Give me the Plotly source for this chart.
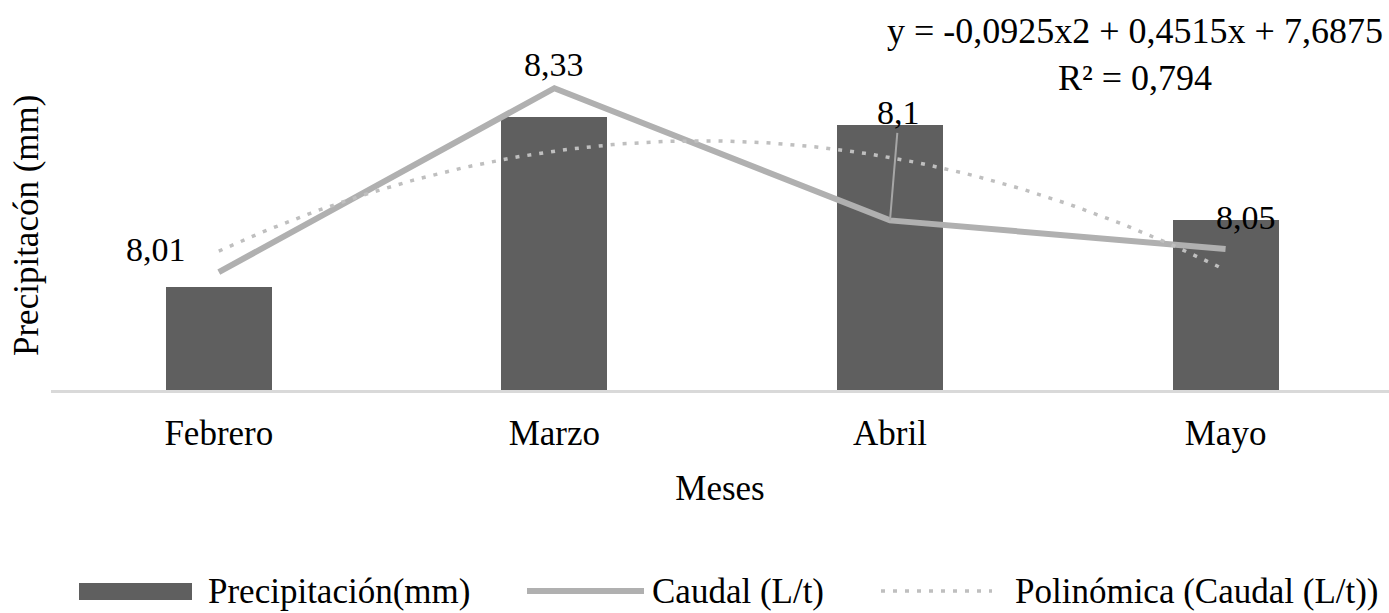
import numpy as np
import plotly.graph_objects as go

# ---------------- data ----------------
months = ["Febrero", "Marzo", "Abril", "Mayo"]
precipitacion = [30.1, 79.8, 77.5, 49.7]          # hidden primary axis (0-100)
caudal = [8.01, 8.33, 8.1, 8.05]
caudal_labels = ["8,01", "8,33", "8,1", "8,05"]
poly_coef = [-0.0925, 0.4515, 7.6875]              # y = a x^2 + b x + c  (x = 1..4)
equation_text = "y = -0,0925x2 + 0,4515x + 7,6875<br>R² = 0,794"

# label offsets (pixels) relative to the line points
label_dx = [-63, 0, 9, 20]
label_dy = [22.5, 23.5, 107.5, 32]

FONT = "Liberation Serif"
BAR_COLOR = "#5f5f5f"
LINE_COLOR = "#b0b0b0"
TREND_COLOR = "#bfbfbf"

xpos = list(range(len(months)))
xt = np.linspace(0, len(months) - 1, 121)
yt = np.polyval(poly_coef, xt + 1)

fig = go.Figure()
fig.add_trace(go.Bar(
    x=xpos, y=precipitacion, name="Precipitación(mm)",
    marker=dict(color=BAR_COLOR, line=dict(width=0)),
    width=0.316, showlegend=False, yaxis="y"))
fig.add_trace(go.Scatter(
    x=xpos, y=caudal, name="Caudal (L/t)", mode="lines",
    line=dict(color=LINE_COLOR, width=6), showlegend=False, yaxis="y2"))
fig.add_trace(go.Scatter(
    x=xt, y=yt, name="Polinómica (Caudal (L/t))", mode="lines",
    line=dict(color=TREND_COLOR, width=3.5, dash="4px,8px"),
    showlegend=False, yaxis="y2"))

annotations = []
for i, (v, lab) in enumerate(zip(caudal, caudal_labels)):
    if i == 2:
        annotations.append(dict(
            x=xpos[i], y=v, xref="x", yref="y2", text=lab, showarrow=True,
            ax=label_dx[i], ay=-label_dy[i], arrowhead=0, arrowwidth=2,
            arrowcolor="#a6a6a6", standoff=0,
            font=dict(family=FONT, size=34, color="black")))
    else:
        annotations.append(dict(
            x=xpos[i], y=v, xref="x", yref="y2", text=lab, showarrow=False,
            xshift=label_dx[i], yshift=label_dy[i], xanchor="center", yanchor="middle",
            font=dict(family=FONT, size=34, color="black")))

# trendline equation
annotations.append(dict(
    x=1, y=1.114, xref="paper", yref="paper", xanchor="right", yanchor="top",
    xshift=-4, text=equation_text, showarrow=False, align="center",
    font=dict(family=FONT, size=36, color="black")))

# y-axis title
PW, PH, L, T = 1338, 342, 51, 48
def px(xp):
    return (xp - L) / PW
def py(yp):
    return (T + PH - yp) / PH

annotations.append(dict(
    x=px(26), y=py(226), xref="paper", yref="paper", xanchor="center", yanchor="middle",
    text="Precipitacón (mm)", textangle=-90, showarrow=False,
    font=dict(family=FONT, size=35, color="black")))

# manual legend
leg_y = 591
legend_items = [
    ("Precipitación(mm)", 206),
    ("Caudal (L/t)", 650),
    ("Polinómica (Caudal (L/t))", 1013),
]
for txt, x0 in legend_items:
    annotations.append(dict(
        x=px(x0), y=py(leg_y), xref="paper", yref="paper", xanchor="left",
        yanchor="middle", text=txt, showarrow=False,
        font=dict(family=FONT, size=35, color="black")))

shapes = [
    dict(type="rect", xref="paper", yref="paper", x0=px(79), x1=px(192),
         y0=py(600), y1=py(583), fillcolor=BAR_COLOR, line=dict(width=0)),
    dict(type="line", xref="paper", yref="paper", x0=px(527), x1=px(644),
         y0=py(leg_y), y1=py(leg_y), line=dict(color=LINE_COLOR, width=6)),
    dict(type="line", xref="paper", yref="paper", x0=px(881), x1=px(992),
         y0=py(leg_y), y1=py(leg_y), line=dict(color=TREND_COLOR, width=3.5, dash="4px,8px")),
]

fig.update_layout(
    width=1389, height=613,
    margin=dict(l=L, r=0, t=T, b=613 - T - PH),
    paper_bgcolor="white", plot_bgcolor="white",
    font=dict(family=FONT, size=35, color="black"),
    bargap=0,
    xaxis=dict(
        range=[-0.5, 3.487], tickmode="array", tickvals=xpos, ticktext=months,
        showgrid=False, zeroline=False, ticks="",
        showline=True, linecolor="#d9d9d9", linewidth=3,
        tickfont=dict(family=FONT, size=35, color="black"),
        ticklabelstandoff=10,
        title=dict(text="Meses", font=dict(family=FONT, size=35, color="black"), standoff=24),
    ),
    yaxis=dict(range=[0, 100], visible=False, showgrid=False, zeroline=False),
    yaxis2=dict(range=[7.8048, 8.4], overlaying="y", side="right", visible=False,
                showgrid=False, zeroline=False),
    annotations=annotations,
    shapes=shapes,
    showlegend=False,
)

fig.write_html("out.html", config={"displayModeBar": False},
               post_script="document.body.style.margin='0px';document.body.style.overflow='hidden';")
